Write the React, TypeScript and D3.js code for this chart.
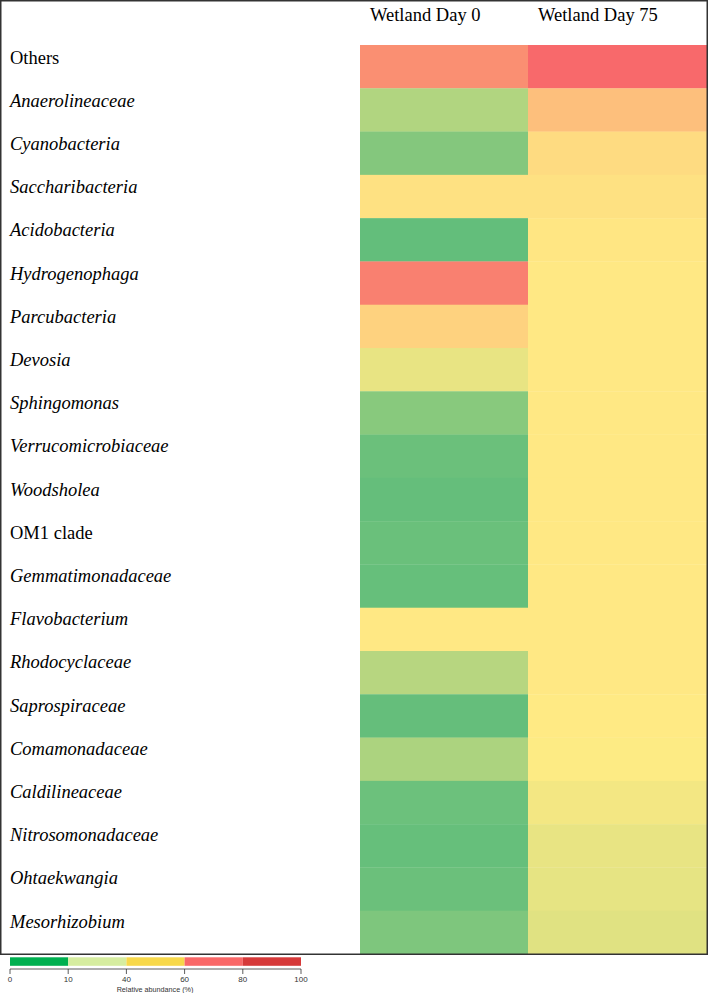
import React from "react";
import * as d3 from "d3";

const taxa = [
  "Others", "Anaerolineaceae", "Cyanobacteria", "Saccharibacteria", "Acidobacteria",
  "Hydrogenophaga", "Parcubacteria", "Devosia", "Sphingomonas", "Verrucomicrobiaceae",
  "Woodsholea", "OM1 clade", "Gemmatimonadaceae", "Flavobacterium", "Rhodocyclaceae",
  "Saprospiraceae", "Comamonadaceae", "Caldilineaceae", "Nitrosomonadaceae",
  "Ohtaekwangia", "Mesorhizobium",
];
const nonItalic = ["Others", "OM1 clade"];
const samples = ["Wetland Day 0", "Wetland Day 75"];

// colour-scale scores (0 = green, 50 = yellow, 100 = red)
const day0 = [85.5, 25, 10.5, 54, 0, 91, 59.5, 42.5, 12, 2.5, 0.5, 2.3, 1, 51, 27, 0.5, 23.5, 3, 1, 2.5, 8.5];
const day75 = [100, 67, 56, 54, 52, 51, 51, 51, 51, 51, 51, 51, 51, 51, 51, 50.5, 49.5, 46, 42.5, 42, 40];

const legendTicks = [0, 10, 40, 60, 80, 100];
const legendColors = ["#00B050", "#D6EDA0", "#F7D84A", "#F96868", "#D63A3A"];

export default function App() {
  const W = 709, H = 993;
  const rows = d3.scaleBand<string>().domain(taxa).range([45, 954]).padding(0);
  const cols = d3.scaleBand<string>().domain(samples).range([360, 707]);
  const colW = [168, 179];
  const colX = [360, 528];
  const color = d3.scaleLinear<string>().domain([0, 50, 100]).range(["#63BE7B", "#FFEB84", "#F8696B"]).interpolate(d3.interpolateRgb);
  const labelY = d3.scaleLinear().domain([0, taxa.length - 1]).range([63.5, 63.5 + 43.2 * (taxa.length - 1)]);
  const legX = d3.scaleLinear().domain(legendTicks).range([10, 68.2, 126.4, 184.6, 242.8, 301]);
  const series = [day0, day75];
  return (
    <svg width={W} height={H} style={{ position: "absolute", left: 0, top: 0, background: "#fff" }}>
      {series.map((vals, ci) =>
        taxa.map((t, ri) => (
          <rect key={`${ci}-${t}`} x={colX[ci]} y={rows(t)!} width={colW[ci]} height={rows.bandwidth() + 0.3}
            fill={color(vals[ri])} />
        ))
      )}
      {samples.map((s, ci) => (
        <text key={s} x={colX[ci] + 10} y={20.5} fontFamily="'Liberation Serif', 'Times New Roman', serif" fontSize={18.5} fill="#000">{s}</text>
      ))}
      {taxa.map((t, i) => (
        <text key={t} x={10} y={labelY(i)} fontFamily="'Liberation Serif', 'Times New Roman', serif" fontSize={18.5}
          fontStyle={nonItalic.includes(t) ? "normal" : "italic"} fill="#000">{t}</text>
      ))}
      <rect x={0.75} y={0.75} width={706.5} height={953.5} fill="none" stroke="#333" strokeWidth={1.5} />
      {legendColors.map((c, i) => (
        <rect key={c} x={legX(legendTicks[i])} y={957.3} width={legX(legendTicks[i + 1]) - legX(legendTicks[i])} height={8.5} fill={c} />
      ))}
      <line x1={legX(0)} x2={legX(100)} y1={969} y2={969} stroke="#333" strokeWidth={0.8} />
      {legendTicks.map((t) => (
        <g key={t}>
          <line x1={legX(t)} x2={legX(t)} y1={969} y2={974} stroke="#333" strokeWidth={0.8} />
          <text x={legX(t)} y={981.5} textAnchor="middle" fontFamily="'Liberation Sans', Arial, sans-serif" fontSize={8} fill="#333">{t}</text>
        </g>
      ))}
      <text x={155} y={991.5} textAnchor="middle" fontFamily="'Liberation Sans', Arial, sans-serif" fontSize={7.2} fill="#333">Relative abundance  (%)</text>
    </svg>
  );
}
